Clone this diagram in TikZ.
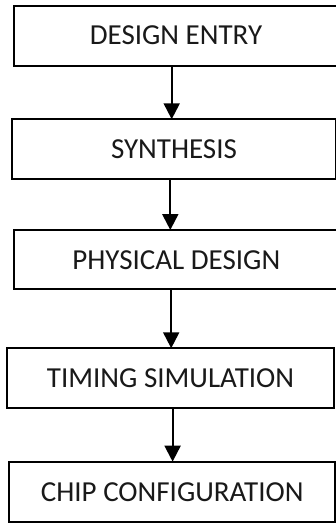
\documentclass[tikz,border=0pt]{standalone}
\usepackage{fontspec}
\setmainfont{Carlito}
\usetikzlibrary{arrows.meta}
\begin{document}
\begin{tikzpicture}[x=1pt,y=-1pt,
  stagebox/.style={draw=black, line width=2.1pt, fill=white, inner sep=0pt,
    font=\fontsize{29}{32}\selectfont, text=black!90, minimum height=60pt},
  flowarrow/.style={line width=2.1pt, -{Triangle[length=16pt,width=16pt]}, shorten >=-1pt}]
  % page
  \fill[white] (0,0) rectangle (336,523);
  \useasboundingbox (0,0) rectangle (336,523);

  % stages of the flow
  \node[stagebox, minimum width=324pt]   (entry)  at (176,35.6)  {DESIGN ENTRY};
  \node[stagebox, minimum width=324.6pt] (synth)  at (174,149.3) {SYNTHESIS};
  \node[stagebox, minimum width=324.7pt, minimum height=59.3pt] (phys) at (176.3,259.7) {PHYSICAL DESIGN};
  \node[stagebox, minimum width=326.4pt, minimum height=59.4pt] (timing) at (170.5,378) {TIMING SIMULATION};
  \node[stagebox, minimum width=325.7pt] (chip)   at (172.2,491.7) {CHIP CONFIGURATION};

  % vertical axis of the arrows
  \coordinate (ax1) at (171.7,0);
  \coordinate (ax2) at (170.3,0);
  \coordinate (ax3) at (171.2,0);
  \coordinate (ax4) at (172.6,0);

  \draw[flowarrow] (entry.south -| ax1) -- (synth.north -| ax1);
  \draw[flowarrow] (synth.south -| ax2) -- (phys.north -| ax2);
  \draw[flowarrow] (phys.south -| ax3) -- (timing.north -| ax3);
  \draw[flowarrow] (timing.south -| ax4) -- (chip.north -| ax4);
\end{tikzpicture}
\end{document}
